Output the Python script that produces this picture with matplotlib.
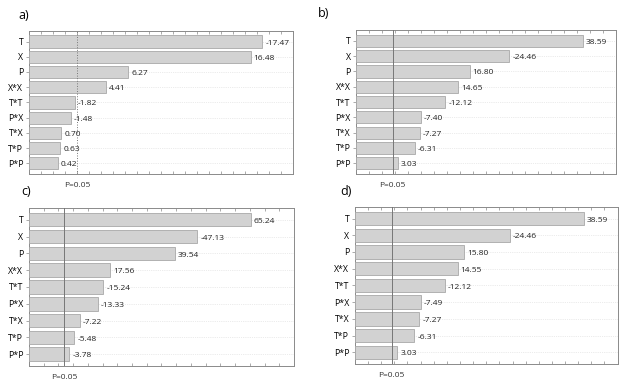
import numpy as np
import matplotlib.pyplot as plt

plt.rcParams['font.family'] = ['Open Sans', 'DejaVu Sans']

terms = ['T', 'X', 'P', 'X*X', 'T*T', 'P*X', 'T*X', 'T*P', 'P*P']

effects_a = [-17.47, 16.48, 6.27, 4.41, -1.82, -1.48, 0.70, 0.63, 0.42]
effects_b = [38.59, -24.46, 16.80, 14.65, -12.12, -7.40, -7.27, -6.31, 3.03]
effects_c = [65.24, -47.13, 39.54, 17.56, -15.24, -13.33, -7.22, -5.48, -3.78]
effects_d = [38.59, -24.46, 15.80, 14.55, -12.12, -7.49, -7.27, -6.31, 3.03]

panel_labels = ['a)', 'b)', 'c)', 'd)']
t_crit = 2.0

# axes rectangles in figure fraction, x limits, minor tick step
panels = [
    (effects_a, [0.046, 0.555, 0.421, 0.366], (-2, 20), 1.0, ':'),
    (effects_b, [0.568, 0.555, 0.415, 0.368], (-5, 45), 2.5, '-'),
    (effects_c, [0.046, 0.064, 0.423, 0.404], (-10, 80), 5.0, '-'),
    (effects_d, [0.566, 0.069, 0.419, 0.402], (-5, 45), 2.5, '-'),
]
label_pos = [(0.030, 0.96), (0.507, 0.965), (0.034, 0.51), (0.543, 0.51)]

fig = plt.figure(figsize=(6.27, 3.91), dpi=100)

for (eff, rect, xl, step, ls), lab, lp in zip(panels, panel_labels, label_pos):
    ax = fig.add_axes(rect)
    y = np.arange(len(terms))
    vals = np.abs(eff)
    ax.barh(y, vals - xl[0], left=xl[0], height=0.8, color='#d2d2d2',
            edgecolor='#a8a8a8', linewidth=0.6, zorder=3)
    for yi, v, e in zip(y, vals, eff):
        ax.text(v + (xl[1] - xl[0]) * 0.012, yi + 0.1, f'{e:.2f}', va='center',
                ha='left', fontsize=6, color='#222222', zorder=4)
    for yi in y:
        ax.axhline(yi, color='#d8d8d8', lw=0.5, ls=':', zorder=1)
    ax.axvline(t_crit, color='#777777', lw=0.7, ls=ls, zorder=5)
    ax.set_xlim(*xl)
    ax.set_ylim(len(terms) - 0.3, -0.7)
    ax.set_yticks(y)
    ax.set_yticklabels(terms, fontsize=6.3)
    ax.set_xticks(np.arange(xl[0], xl[1] + 0.01, step))
    ax.set_xticklabels([])
    ax.tick_params(axis='x', direction='in', length=2, color='#888888',
                   top=True, bottom=True, width=0.5)
    ax.tick_params(axis='y', direction='out', length=2, color='#888888',
                   width=0.5, pad=2, right=False)
    for s in ax.spines.values():
        s.set_color('#8a8a8a')
        s.set_linewidth(0.7)
        s.set_linestyle((0, (2, 1)))
    ax.text(t_crit, len(terms) - 0.3 + 0.5, 'P=0.05', ha='center', va='top',
            fontsize=6, color='#333333')
    fig.text(lp[0], lp[1], lab, fontsize=9, ha='left', va='center')

fig.savefig('out.png', dpi=100)
